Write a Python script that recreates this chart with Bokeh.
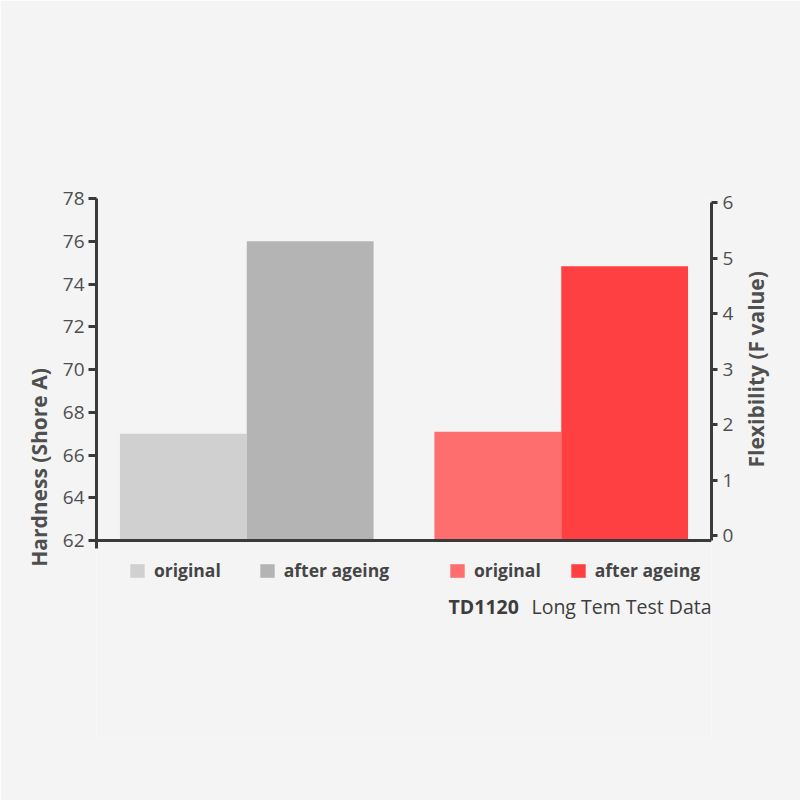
import math
from bokeh.plotting import figure
from bokeh.models import (FactorRange, Range1d, LinearAxis, FixedTicker, Legend,
                          LegendItem, Label, ColumnDataSource, Span, Title)
from bokeh.embed import file_html
from bokeh.resources import INLINE

# ---- data ----
groups = ["Hardness", "Flexibility"]
conditions = ["original", "after ageing"]
hardness_values = [67, 76]          # Shore A (left axis)
flexibility_values = [1.87, 4.85]   # F value (right axis)
hardness_ticks = [62, 64, 66, 68, 70, 72, 74, 76, 78]
flexibility_ticks = [0, 1, 2, 3, 4, 5, 6]
gray_colors = ["#d0d0d0", "#b4b4b4"]
red_colors = ["#ff6e6e", "#ff4042"]
subtitle_code = "TD1120"
subtitle_text = "Long Tem Test Data"

# ---- style / layout ----
BG = "#f4f4f4"
AXIS = "#3a3a3a"
TXT = "#4f4f4f"
FONT = "Open Sans"
W = H = 800
FRAME_L, FRAME_R, FRAME_T, FRAME_B = 96, 711, 198, 736   # frame box in pixels
BASE_Y = 540          # pixel row of the bottom axis line
FLEX_ZERO_Y, FLEX_TOP_Y = 535, 202   # pixel rows of 0 and 6 on the right axis

h_lo, h_hi = hardness_ticks[0], hardness_ticks[-1]
h_ppu = (BASE_Y - FRAME_T) / (h_hi - h_lo)
y_range = Range1d(h_lo - (FRAME_B - BASE_Y) / h_ppu, h_hi)

f_lo, f_hi = flexibility_ticks[0], flexibility_ticks[-1]
f_ppu = (FLEX_ZERO_Y - FLEX_TOP_Y) / (f_hi - f_lo)
flex_range = Range1d(f_lo - (FRAME_B - FLEX_ZERO_Y) / f_ppu,
                     f_hi + (FLEX_TOP_Y - FRAME_T) / f_ppu)
flex_base = f_lo - (BASE_Y - FLEX_ZERO_Y) / f_ppu

factors = [(g, c) for g in groups for c in conditions]
x_range = FactorRange(*factors, group_padding=0.48, range_padding=0.185,
                      range_padding_units="absolute")

p = figure(width=W, height=H, x_range=x_range, y_range=y_range,
           output_backend="svg", toolbar_location=None,
           background_fill_color=BG, border_fill_color=BG, outline_line_color=None,
           min_border_left=FRAME_L, min_border_right=W - FRAME_R,
           min_border_top=FRAME_T, min_border_bottom=H - FRAME_B)
p.extra_y_ranges = {"flex": flex_range}

p.xgrid.visible = False
p.ygrid.visible = False
p.xaxis.visible = False

# hardness bars
hsrc = ColumnDataSource(dict(x=[(groups[0], c) for c in conditions],
                             top=hardness_values, color=gray_colors))
hr = p.vbar(x="x", top="top", bottom=h_lo, width=1.0, source=hsrc,
            fill_color="color", line_color=None)

# flexibility bars
fsrc = ColumnDataSource(dict(x=[(groups[1], c) for c in conditions],
                             top=flexibility_values, color=red_colors))
fr = p.vbar(x="x", top="top", bottom=flex_base, width=1.0, source=fsrc,
            fill_color="color", line_color=None, y_range_name="flex")

def style_axis(ax):
    ax.axis_line_width = 3
    ax.axis_line_color = AXIS
    ax.major_tick_line_width = 3
    ax.major_tick_line_color = AXIS
    ax.minor_tick_line_color = None
    ax.major_tick_in = 0
    ax.major_label_text_font = FONT
    ax.major_label_text_font_size = "19px"
    ax.major_label_text_color = TXT
    ax.axis_label_text_font = FONT
    ax.axis_label_text_font_size = "21px"
    ax.axis_label_text_font_style = "bold"
    ax.axis_label_text_color = TXT
    ax.axis_label_orientation = math.pi / 2

# left axis
ly = p.yaxis[0]
ly.ticker = FixedTicker(ticks=hardness_ticks)
style_axis(ly)
ly.bounds = (h_lo - 8 / h_ppu, h_hi)
ly.major_tick_out = 8
ly.major_label_standoff = 4

# left axis title, centred on the axis' span
p.add_layout(Title(text="Hardness (Shore A)", align="center",
                   offset=(FRAME_T + FRAME_B) / 2 - (FRAME_T + BASE_Y) / 2,
                   text_font=FONT, text_font_size="21px", text_font_style="bold",
                   text_color=TXT, standoff=14), "left")

# right axis
ry = LinearAxis(y_range_name="flex", ticker=FixedTicker(ticks=flexibility_ticks),
                axis_label="Flexibility (F value)")
style_axis(ry)
ry.bounds = (flex_base, f_hi)
ry.major_tick_out = 6
ry.major_label_standoff = 5
ry.axis_label_standoff = 20
p.add_layout(ry, "right")

# bottom axis line
p.add_layout(Span(location=h_lo, dimension="width", line_width=3, line_color=AXIS))

def make_legend(items, x, spacing):
    return Legend(items=items, orientation="horizontal", location=(x, FRAME_B - 582),
                  spacing=spacing, glyph_width=18, glyph_height=17, label_standoff=8,
                  padding=0, margin=0, background_fill_alpha=0, border_line_color=None,
                  label_text_font=FONT, label_text_font_style="bold",
                  label_text_font_size="17.5px", label_text_color="#454545",
                  label_height=17)

leg_a = make_legend([LegendItem(label=conditions[0], renderers=[hr], index=0),
                     LegendItem(label=conditions[1], renderers=[hr], index=1)],
                    128 - FRAME_L, 37)
leg_b = make_legend([LegendItem(label=conditions[0], renderers=[fr], index=0),
                     LegendItem(label=conditions[1], renderers=[fr], index=1)],
                    448 - FRAME_L, 28)
p.add_layout(leg_a)
p.add_layout(leg_b)

p.add_layout(Label(x=448 - FRAME_L, y=FRAME_B - 619, x_units="screen", y_units="screen",
                   text=subtitle_code, text_font=FONT, text_font_style="bold",
                   text_font_size="19.5px", text_color="#3d3d3d"))
p.add_layout(Label(x=531 - FRAME_L, y=FRAME_B - 619, x_units="screen", y_units="screen",
                   text=subtitle_text, text_font=FONT, text_font_size="19.5px",
                   text_color="#3d3d3d"))

html = file_html(p, INLINE)
html = html.replace("<body>", '<body style="background-color:#f4f4f4;">', 1)
open("out.html", "w").write(html)
